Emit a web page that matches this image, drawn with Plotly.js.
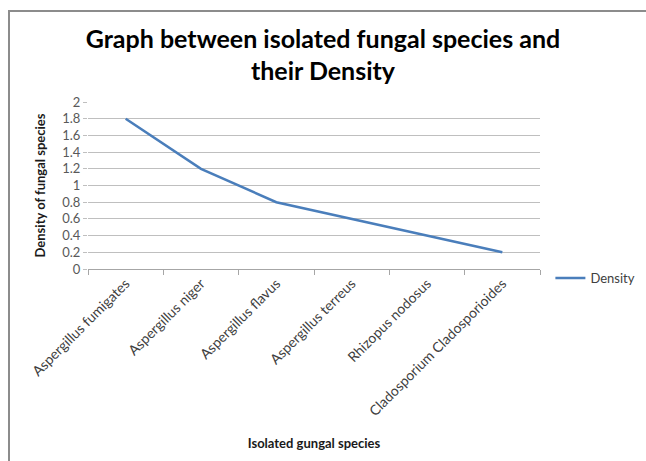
<!DOCTYPE html>
<html>
<head>
<meta charset="utf-8">
<script src="https://cdn.plot.ly/plotly-3.0.1.min.js"></script>
<style>
html,body{margin:0;padding:0;background:#fff;overflow:hidden;}
#chart{width:646px;height:461px;position:relative;overflow:hidden;}
#frame{position:absolute;left:8px;top:10px;width:700px;height:500px;border-left:2px solid #8c8c8c;border-top:2px solid #8c8c8c;pointer-events:none;z-index:10;}
</style>
</head>
<body>
<div id="chart"><div id="frame"></div></div>
<script>
const categories = ["Aspergillus fumigates","Aspergillus niger","Aspergillus flavus","Aspergillus terreus","Rhizopus nodosus","Cladosporium Cladosporioides"];
const density = [1.8, 1.2, 0.8, 0.6, 0.4, 0.2];
const seriesName = "Density";
const yTicks = [0,0.2,0.4,0.6,0.8,1,1.2,1.4,1.6,1.8,2];

const font = "Lato, 'Open Sans', 'Liberation Sans', sans-serif";

Plotly.newPlot('chart', [{
  x: categories,
  y: density,
  type: 'scatter',
  mode: 'lines',
  name: seriesName,
  line: {color: '#4a7ebb', width: 2.5}
}], {
  width: 646, height: 461,
  margin: {l: 88, r: 106, t: 102, b: 192},
  paper_bgcolor: '#fff', plot_bgcolor: '#fff',
  font: {family: font, color: '#404040'},
  title: {
    text: '<b>Graph between isolated fungal species and<br>their Density</b>',
    font: {family: font, size: 25, color: '#000'},
    x: 0.5, xanchor: 'center', y: 0.896, yanchor: 'top'
  },
  xaxis: {
    type: 'category',
    range: [-0.5, 5.5],
    tickangle: -45,
    tickfont: {size: 14, color: '#404040'},
    showgrid: false,
    showline: true, linecolor: '#a6a6a6', linewidth: 1,
    ticks: 'outside', ticklen: 5, tickcolor: '#a6a6a6',
    tickson: 'boundaries',
    title: {text: '<b>Isolated gungal species</b>', font: {size: 13, color: '#1a1a1a'}, standoff: 20},
    automargin: false
  },
  yaxis: {
    range: [0, 2],
    tickvals: yTicks,
    ticktext: yTicks.map(v => String(v)),
    tickfont: {size: 13, color: '#595959'},
    showgrid: true, gridcolor: '#bfbfbf', gridwidth: 1,
    zeroline: false,
    showline: false,
    ticks: 'outside', ticklen: 4, tickcolor: '#bfbfbf',
    title: {text: '<b>Density of fungal species</b>', font: {size: 13, color: '#1a1a1a'}, standoff: 13},
    automargin: false
  },
  showlegend: true,
  legend: {
    xref: 'container', yref: 'container',
    x: 0.852, xanchor: 'left', y: 0.397, yanchor: 'middle',
    font: {size: 13, color: '#404040'},
    bgcolor: 'rgba(0,0,0,0)'
  }
}, {displayModeBar: false, staticPlot: true});
</script>
</body>
</html>
